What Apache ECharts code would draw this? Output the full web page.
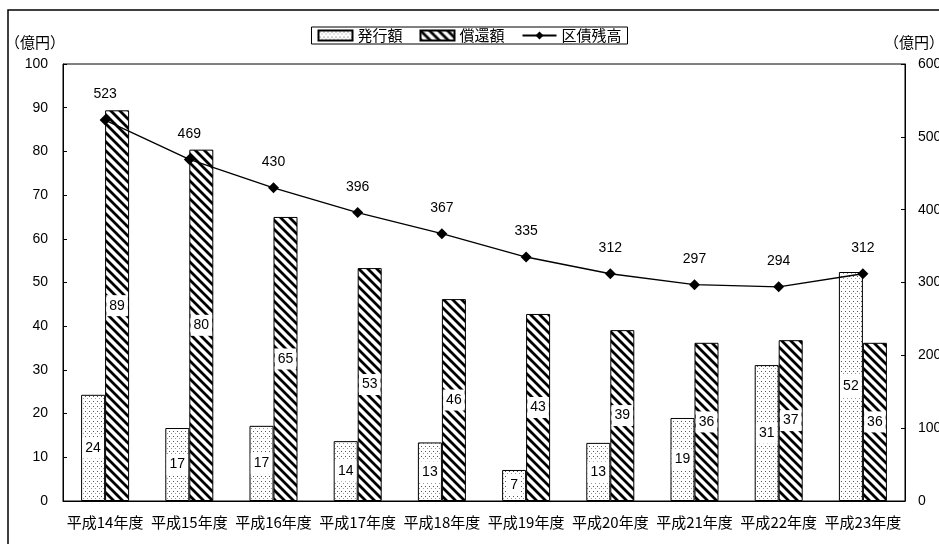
<!DOCTYPE html>
<html>
<head>
<meta charset="utf-8">
<script src="https://cdn.jsdelivr.net/npm/echarts@6/dist/echarts.min.js"></script>
<style>
html,body{margin:0;padding:0;background:#fff;}
#chart{width:939px;height:544px;}
</style>
</head>
<body>
<div id="chart"></div>
<script>
// 年度ごとの区債データ（単位：億円）
const categories = ['平成14年度','平成15年度','平成16年度','平成17年度','平成18年度','平成19年度','平成20年度','平成21年度','平成22年度','平成23年度'];
const issueAmount = [24.3, 16.7, 17.2, 13.7, 13.4, 7.1, 13.3, 19.0, 31.1, 52.4];   // 発行額
const redemption  = [89.4, 80.4, 65.0, 53.3, 46.2, 42.8, 39.1, 36.2, 36.8, 36.2];  // 償還額
const balance     = [523, 469, 430, 396, 367, 335, 312, 297, 294, 312];            // 区債残高
const leftTicks  = [0, 100, 10];   // min, max, interval
const rightTicks = [0, 600, 100];

const JP = '"Noto Sans CJK JP", "Liberation Sans", sans-serif';
const NUM = '"Liberation Sans", "Noto Sans CJK JP", sans-serif';

// 点描の塗り（発行額）
function dotPattern() {
  const c = document.createElement('canvas');
  c.width = 4; c.height = 5;
  const g = c.getContext('2d');
  g.fillStyle = '#fff'; g.fillRect(0, 0, 4, 5);
  g.fillStyle = '#555';
  g.fillRect(1, 1, 1, 1);
  g.fillStyle = '#999';
  g.fillRect(3, 3, 1, 1);
  return c;
}
// 右下がり斜線の塗り（償還額）
function stripePattern() {
  const s = 9;
  const c = document.createElement('canvas');
  c.width = s; c.height = s;
  const g = c.getContext('2d');
  g.fillStyle = '#fff'; g.fillRect(0, 0, s, s);
  g.strokeStyle = '#000'; g.lineWidth = 2.8;
  g.beginPath();
  for (let k = -1; k <= 1; k++) {
    g.moveTo(k * s - 1, -1);
    g.lineTo(k * s + s + 1, s + 1);
  }
  g.stroke();
  return c;
}

const dots = { image: dotPattern(), repeat: 'repeat' };
const stripes = { image: stripePattern(), repeat: 'repeat' };

const barLabel = {
  show: true,
  position: 'inside',
  formatter: p => Math.round(p.value),
  color: '#000',
  fontFamily: NUM,
  fontSize: 14,
  backgroundColor: '#fff',
  padding: [4, 3, 3, 3]
};

const chart = echarts.init(document.getElementById('chart'), null, { renderer: 'canvas' });
chart.setOption({
  animation: false,
  backgroundColor: '#fff',
  graphic: [
    { type: 'rect', shape: { x: 8, y: 10, width: 1000, height: 600 },
      style: { fill: 'none', stroke: '#000', lineWidth: 1.5 }, z: 0, silent: true },
    { type: 'text', left: 5, top: 35, style: { text: '（億円）', font: '15px ' + JP, fill: '#000' } },
    { type: 'text', left: 884, top: 35, style: { text: '（億円）', font: '15px ' + JP, fill: '#000' } }
  ],
  legend: {
    top: 27,
    left: 'center',
    itemGap: 17,
    itemWidth: 34,
    itemHeight: 10,
    borderColor: '#000',
    borderWidth: 1,
    padding: [1, 6, 1, 6],
    textStyle: { fontFamily: JP, fontSize: 15, color: '#000' },
    data: [
      { name: '発行額', icon: 'rect' },
      { name: '償還額', icon: 'rect' },
      { name: '区債残高' }
    ]
  },
  grid: {
    left: 63, right: 34, top: 64, bottom: 43,
    outerBoundsMode: 'none',
    containLabel: false,
    show: true, borderColor: '#000', borderWidth: 1, backgroundColor: 'transparent'
  },
  xAxis: {
    type: 'category',
    data: categories,
    axisLine: { lineStyle: { color: '#000', width: 1 } },
    axisTick: { inside: true, length: 5, lineStyle: { color: '#000' } },
    axisLabel: { color: '#000', fontFamily: JP, fontSize: 15, margin: 14, interval: 0 },
    splitLine: { show: false }
  },
  yAxis: [
    {
      type: 'value', min: leftTicks[0], max: leftTicks[1], interval: leftTicks[2],
      axisLine: { show: true, lineStyle: { color: '#000' } },
      axisTick: { show: true, inside: true, length: 4, lineStyle: { color: '#000' } },
      axisLabel: { color: '#000', fontFamily: NUM, fontSize: 14, margin: 15 },
      splitLine: { show: false }
    },
    {
      type: 'value', min: rightTicks[0], max: rightTicks[1], interval: rightTicks[2],
      axisLine: { show: true, lineStyle: { color: '#000' } },
      axisTick: { show: true, inside: true, length: 4, lineStyle: { color: '#000' } },
      axisLabel: { color: '#000', fontFamily: NUM, fontSize: 14, margin: 13 },
      splitLine: { show: false }
    }
  ],
  series: [
    {
      name: '発行額', type: 'bar', yAxisIndex: 0, data: issueAmount,
      barWidth: 24, barGap: '0%',
      itemStyle: { color: dots, borderColor: '#000', borderWidth: 1 },
      label: barLabel
    },
    {
      name: '償還額', type: 'bar', yAxisIndex: 0, data: redemption,
      barWidth: 24, barGap: '0%',
      itemStyle: { color: stripes, borderColor: '#000', borderWidth: 1 },
      label: barLabel
    },
    {
      name: '区債残高', type: 'line', yAxisIndex: 1, data: balance,
      symbol: 'diamond', symbolSize: 11, z: 5,
      lineStyle: { color: '#000', width: 1.3 },
      itemStyle: { color: '#000' },
      label: { show: true, position: 'top', distance: 13, color: '#000', fontFamily: NUM, fontSize: 14 }
    }
  ]
});
</script>
</body>
</html>
